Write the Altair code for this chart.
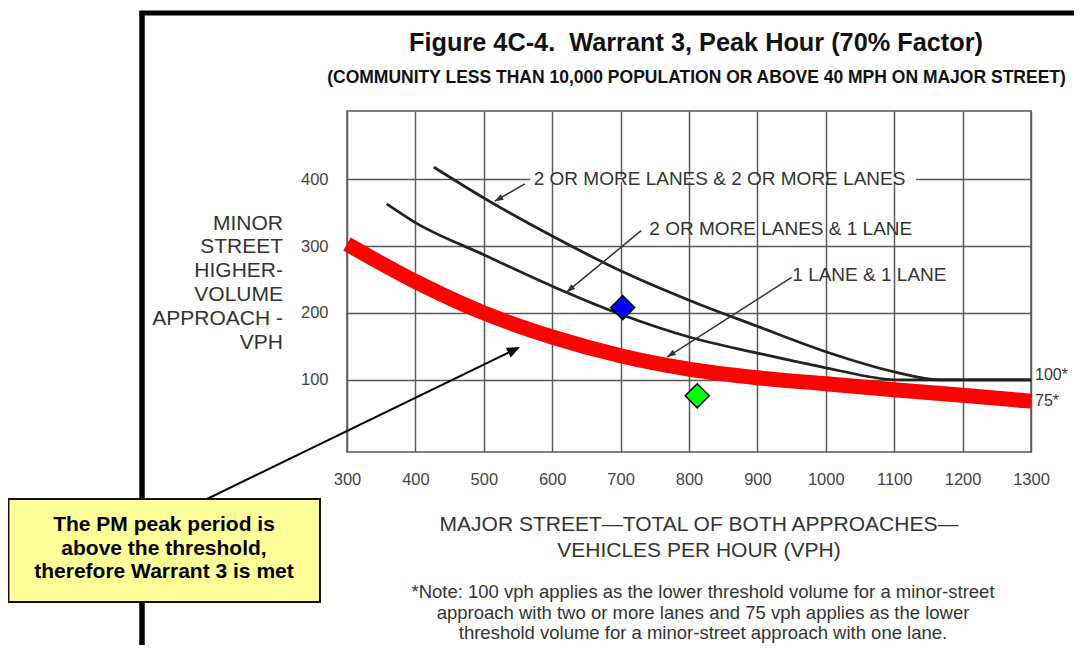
import math
import altair as alt
import pandas as pd

# ---------------- data ----------------
major_ticks = [300, 400, 500, 600, 700, 800, 900, 1000, 1100, 1200, 1300]
minor_ticks = [100, 200, 300, 400]

# 2 or more lanes & 2 or more lanes
two_two_x = [427, 500, 600, 700, 800, 900, 1000, 1100, 1166, 1300]
two_two_y = [418, 372, 315, 263, 219, 180, 142, 112, 100, 100]
# 2 or more lanes & 1 lane
two_one_x = [358, 400, 500, 600, 700, 800, 900, 1000, 1105, 1300]
two_one_y = [363, 335, 287, 240, 198, 164, 140, 118, 100, 100]
# 1 lane & 1 lane (highlighted)
one_one_x = [300, 400, 500, 600, 700, 800, 900, 1000, 1100, 1200, 1300]
one_one_y = [303, 247, 200, 164, 136, 116, 103, 94, 85, 77, 68]

# observed peak-hour volumes
obs_names = ["Peak period 1", "PM peak period"]
obs_major = [703, 812]
obs_minor = [208, 76]

# curve labels and their leader lines (data units)
lane_labels = ["2 OR MORE LANES & 2 OR MORE LANES", "2 OR MORE LANES & 1 LANE", "1 LANE & 1 LANE"]
label_major = [573, 742, 951]
label_minor = [401, 326, 256]
lead_major = [560, 730, 950]
lead_minor = [393, 323, 253]
lead_major2 = [516, 621, 768]
lead_minor2 = [367, 231, 134]

end_labels = ["100*", "75*"]
end_major = [1300, 1300]
end_minor = [100, 68]

title_text = "Figure 4C-4.\u00a0 Warrant 3, Peak Hour (70% Factor)"
subtitle_text = "(COMMUNITY LESS THAN 10,000 POPULATION OR ABOVE 40 MPH ON MAJOR STREET)"
y_title = ["MINOR", "STREET", "HIGHER-", "VOLUME", "APPROACH -", "VPH"]
x_title = ["MAJOR STREET\u2014TOTAL OF BOTH APPROACHES\u2014", "VEHICLES PER HOUR (VPH)"]
note_text = [
    "*Note: 100 vph applies as the lower threshold volume for a minor-street",
    "approach with two or more lanes and 75 vph applies as the lower",
    "threshold volume for a minor-street approach with one lane.",
]
box_text = ["The PM peak period is", "above the threshold,", "therefore Warrant 3 is met"]

# ---------------- layout ----------------
W, H = 684, 341
X_DOM = [300, 1300]
Y_DOM = [-8, 502]
KX = W / (X_DOM[1] - X_DOM[0])
KY = H / (Y_DOM[1] - Y_DOM[0])
FONT = "Liberation Sans"
TXT = "#333333"
GRID = "#5a5a5a"

xs = alt.Scale(domain=X_DOM, nice=False, zero=False)
ys = alt.Scale(domain=Y_DOM, nice=False, zero=False)

axis_common = dict(grid=True, ticks=False, domain=False, title=None, labelFont=FONT,
                   labelFontSize=16.5, labelColor="#444444", labelPadding=19, format="d",
                   labelOverlap=False, gridColor=GRID, gridWidth=1.5, gridOpacity=1)
x_axis = alt.Axis(values=major_ticks, labelFlush=False, **axis_common)
y_axis = alt.Axis(values=minor_ticks, **axis_common)


def X(f="major"):
    return alt.X(f"{f}:Q", scale=xs, axis=x_axis)


def Y(f="minor"):
    return alt.Y(f"{f}:Q", scale=ys, axis=y_axis)


def curve_df(name, xv, yv):
    return pd.DataFrame({"series": name, "major": xv, "minor": yv, "order": list(range(len(xv)))})


black_df = pd.concat([curve_df("2+ & 2+", two_two_x, two_two_y),
                      curve_df("2+ & 1", two_one_x, two_one_y)], ignore_index=True)
red_df = curve_df("1 & 1", one_one_x, one_one_y)

black = alt.Chart(black_df).mark_line(color="#222222", strokeWidth=2.8, interpolate="monotone").encode(
    x=X(), y=Y(), detail="series:N", order="order:Q")

red = alt.Chart(red_df).mark_line(color="#FF0000", strokeWidth=15, interpolate="monotone",
                                  strokeCap="butt").encode(x=X(), y=Y(), order="order:Q")

# white mask behind the top label (hides the 400 grid line under the text)
mask_df = pd.DataFrame({"major": [568], "major2": [1132], "minor": [396], "minor2": [404]})
mask = alt.Chart(mask_df).mark_rect(color="white").encode(
    x=X(), x2="major2:Q", y=Y(), y2="minor2:Q")

lab_df = pd.DataFrame({"label": lane_labels, "major": label_major, "minor": label_minor})
labels = alt.Chart(lab_df).mark_text(align="left", baseline="middle", font=FONT, fontSize=19,
                                     color=TXT).encode(x=X(), y=Y(), text="label:N")

ang = [math.degrees(math.atan2((x2 - x1) * KX, (y2 - y1) * KY)) % 360
       for x1, y1, x2, y2 in zip(lead_major, lead_minor, lead_major2, lead_minor2)]
lead_df = pd.DataFrame({"major": lead_major, "minor": lead_minor,
                        "major2": lead_major2, "minor2": lead_minor2, "ang": ang})
leaders = alt.Chart(lead_df).mark_rule(color="#333333", strokeWidth=1.5).encode(
    x=X(), y=Y(), x2="major2:Q", y2="minor2:Q")
heads_df = pd.DataFrame({"major": lead_major2, "minor": lead_minor2, "ang": ang})
heads = alt.Chart(heads_df).mark_point(shape="M0,0L0.36,1L-0.36,1Z", filled=True, size=300,
                                       color="#333333", opacity=1).encode(
    x=X(), y=Y(), angle=alt.Angle("ang:Q", scale=None))

end_df = pd.DataFrame({"label": end_labels, "major": end_major, "minor": end_minor})
end100 = alt.Chart(end_df.iloc[[0]]).mark_text(align="left", baseline="middle", dx=4, dy=-5,
                                               font=FONT, fontSize=16, color=TXT).encode(
    x=X(), y=Y(), text="label:N")
end75 = alt.Chart(end_df.iloc[[1]]).mark_text(align="left", baseline="middle", dx=4, dy=0,
                                              font=FONT, fontSize=16, color=TXT).encode(
    x=X(), y=Y(), text="label:N")

obs_df = pd.DataFrame({"name": obs_names, "major": obs_major, "minor": obs_minor})
points = alt.Chart(obs_df).mark_point(shape="diamond", filled=True, size=576, stroke="black",
                                      strokeWidth=1.5, opacity=1).encode(
    x=X(), y=Y(),
    fill=alt.Fill("name:N", scale=alt.Scale(domain=obs_names, range=["#0000FF", "#00FF00"]),
                  legend=None))

one = pd.DataFrame({"k": [0]})


def text_block(text, x, y, **kw):
    return alt.Chart(one).mark_text(text=text, **kw).encode(x=alt.value(x), y=alt.value(y))


def rule(x, x2, y, y2, **kw):
    return alt.Chart(one).mark_rule(**kw).encode(
        x=alt.value(x), x2=alt.value(x2), y=alt.value(y), y2=alt.value(y2))


title = text_block(title_text, 349, -68, align="center", baseline="middle", font=FONT,
                   fontSize=25.3, fontWeight="bold", color="#111111")
subtitle = text_block(subtitle_text, 349.5, -33, align="center", baseline="middle", font=FONT,
                      fontSize=17.5, fontWeight="bold", color="#111111")
ytitle = text_block(y_title, -64, 101.6, align="right", baseline="top", font=FONT, fontSize=21,
                    lineHeight=23.8, color=TXT)
xtitle = text_block(x_title, 352, 403, align="center", baseline="top", font=FONT, fontSize=21,
                    lineHeight=26, color=TXT)
note = text_block(note_text, 356, 472, align="center", baseline="top", font=FONT, fontSize=18.5,
                  lineHeight=20.5, color=TXT)

frame_left = rule(-205, -205, -100, 534, color="black", strokeWidth=5.5)
frame_top = rule(-207.5, 727, -98, -98, color="black", strokeWidth=5)

box = alt.Chart(one).mark_rect(fill="#FFFF99", stroke="#111111", strokeWidth=2).encode(
    x=alt.value(-338.5), x2=alt.value(-27), y=alt.value(388), y2=alt.value(491))
box_lbl = text_block(box_text, -183, 403, align="center", baseline="top", font=FONT,
                     fontSize=21, fontWeight="bold", lineHeight=23.7, color="black")

pointer = rule(-140, 170, 388, 237.5, color="black", strokeWidth=2)
ptr_ang = math.degrees(math.atan2(173 - (-140), 388 - 236))
pointer_head = alt.Chart(one).mark_point(shape="M0,0L0.42,1L-0.42,1Z", filled=True, size=676,
                                         color="black", opacity=1, angle=ptr_ang).encode(
    x=alt.value(173), y=alt.value(236))

chart = alt.layer(
    black, mask, red, leaders, heads, labels, end100, end75, points,
    frame_left, frame_top, title, subtitle, ytitle, xtitle, note,
    pointer, pointer_head, box, box_lbl,
).properties(
    width=W, height=H,
    autosize=alt.AutoSizeParams(type="none"),
    padding={"left": 339, "top": 103, "right": 43, "bottom": 193},
    background="white",
).configure_view(stroke=GRID, strokeWidth=1.5)

chart.save("out.html", embed_options={"renderer": "svg", "actions": False})
